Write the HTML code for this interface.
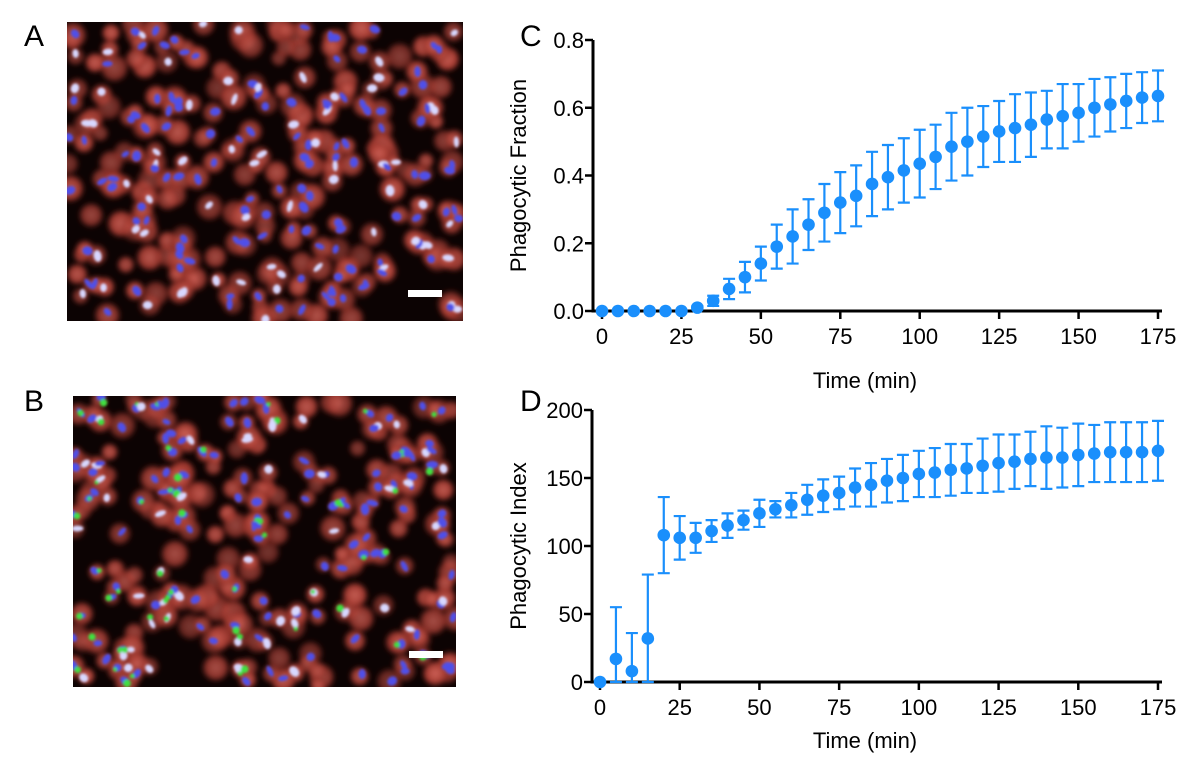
<!DOCTYPE html>
<html><head><meta charset="utf-8">
<style>
html,body{margin:0;padding:0;background:#fff;}
body{width:1200px;height:770px;position:relative;overflow:hidden;font-family:"Liberation Sans",sans-serif;}
.lbl{position:absolute;font-size:30px;color:#000;}
svg{position:absolute;left:0;top:0;}
</style></head>
<body>
<div class="lbl" style="left:24px;top:20px;">A</div>
<div class="lbl" style="left:24px;top:385px;">B</div>
<div class="lbl" style="left:520px;top:20px;">C</div>
<div class="lbl" style="left:520px;top:385px;">D</div>
<svg id="imgs" width="1200" height="770">
<defs>
<filter id="bl" x="-50%" y="-50%" width="200%" height="200%"><feGaussianBlur stdDeviation="2.5"/></filter>
<filter id="bl2" x="-50%" y="-50%" width="200%" height="200%"><feGaussianBlur stdDeviation="1.3"/></filter>
<radialGradient id="cell"><stop offset="0" stop-color="#d0645a"/><stop offset="0.65" stop-color="#a83c32"/><stop offset="1" stop-color="#5a1510" stop-opacity="0"/></radialGradient>
<clipPath id="ca"><rect x="67" y="22" width="396" height="299"/></clipPath>
<clipPath id="cb"><rect x="73" y="396" width="383" height="291"/></clipPath>
</defs>
<rect x="67" y="22" width="396" height="299" fill="#0c0303"/>
<rect x="73" y="396" width="383" height="291" fill="#0c0303"/>
<g id="ga" clip-path="url(#ca)"></g>
<g id="gb" clip-path="url(#cb)"></g>
<rect x="408" y="290" width="34" height="7" fill="#fff"/>
<rect x="409" y="651" width="34" height="7" fill="#fff"/>
</svg>
<svg id="chart" width="1200" height="770"></svg>
<script>
// ---- chart data ----
const times = [0,5,10,15,20,25,30,35,40,45,50,55,60,65,70,75,80,85,90,95,100,105,110,115,120,125,130,135,140,145,150,155,160,165,170,175];
const fractionMean = [0,0,0,0,0,0,0.01,0.03,0.065,0.10,0.14,0.19,0.22,0.255,0.29,0.32,0.34,0.375,0.395,0.415,0.435,0.455,0.485,0.50,0.515,0.53,0.54,0.55,0.565,0.575,0.585,0.6,0.61,0.62,0.63,0.635];
const fractionErr = [0,0,0,0,0,0,0.005,0.015,0.03,0.045,0.05,0.065,0.08,0.075,0.085,0.09,0.09,0.095,0.095,0.095,0.10,0.095,0.10,0.10,0.09,0.09,0.10,0.095,0.085,0.095,0.085,0.085,0.08,0.08,0.075,0.075];
const indexMean = [0,17,8,32,108,106,106,111,115,119,124,127,130,134,137,139,143,145,148,150,153,154,156,157,159,161,162,164,165,165,167,168,169,169,169,170];
const indexErr = [0,38,28,47,28,16,11,8,9,7,10,6,9,11,12,12,14,16,16,17,17,18,19,18,20,21,20,20,23,22,23,21,22,22,22,22];
const xTicks = [0,25,50,75,100,125,150,175];
const fractionTicks = [0,0.2,0.4,0.6,0.8];
const fractionTickLabels = ["0.0","0.2","0.4","0.6","0.8"];
const indexTicks = [0,50,100,150,200];
const indexTickLabels = ["0","50","100","150","200"];

const NS="http://www.w3.org/2000/svg";
const svg=document.getElementById('chart');
function mk(tag,attrs,parent){const e=document.createElementNS(NS,tag);for(const k in attrs)e.setAttribute(k,attrs[k]);(parent||svg).appendChild(e);return e;}
const BLUE="#1a8ffc";

function panel(o){
  const g=mk('g',{});
  
  
  const xs=v=>o.x0+(v-0)/175*(o.x1-o.x0);
  const ys=v=>o.yb+(v-o.ymin)/(o.ymax-o.ymin)*(o.yt-o.yb);
  const ya=mk('line',{x1:o.ax,y1:o.yt,x2:o.ax,y2:o.yb+1.5,stroke:'#000','stroke-width':3},g);
  
  
  const xa=mk('line',{x1:o.ax-1.5,y1:o.yb,x2:o.x1+4,y2:o.yb,stroke:'#000','stroke-width':3},g);
  
  
  o.yTicks.forEach((v,i)=>{
    const y=ys(v);
    const t=mk('line',{x1:o.ax-8,y1:y,x2:o.ax,y2:y,stroke:'#000','stroke-width':2.5},g);
    
    
    const tx=mk('text',{x:o.ax-9,y:y+8,'text-anchor':'end','font-size':22,'font-family':'Liberation Sans, sans-serif'},g);
    tx.textContent=o.yLabels[i];
    
    
  });
  xTicks.forEach(v=>{
    const x=xs(v);
    const t=mk('line',{x1:x,y1:o.yb,x2:x,y2:o.yb+8,stroke:'#000','stroke-width':2.5},g);
    
    
    const tx=mk('text',{x:x,y:o.yb+33,'text-anchor':'middle','font-size':22,'font-family':'Liberation Sans, sans-serif'},g);
    tx.textContent=String(v);
    
    
  });
  const xt=mk('text',{x:865,y:o.xTitleY,'text-anchor':'middle','font-size':22,'font-family':'Liberation Sans, sans-serif'},g);
  xt.textContent='Time (min)';
  
  
  const yc=(o.yt+o.yb)/2;
  const yt=mk('text',{x:0,y:0,'text-anchor':'middle','font-size':22,'font-family':'Liberation Sans, sans-serif',transform:`translate(${o.yTitleX},${yc}) rotate(-90)`},g);
  yt.textContent=o.yTitle;
  
  
  times.forEach((t,i)=>{
    const x=xs(t), m=o.mean[i], e=o.err[i];
    if(e>0){
      const lo=Math.max(o.ymin,m-e), hi=m+e;
      const eb=mk('path',{d:`M${x},${ys(lo)}V${ys(hi)}M${x-6},${ys(hi)}H${x+6}M${x-6},${ys(lo)}H${x+6}`,stroke:BLUE,'stroke-width':2.2,fill:'none'},g);
      
      
    }
    const c=mk('circle',{cx:x,cy:ys(m),r:6.3,fill:BLUE},g);
    
    
  });
}
panel({name:'chart-c-phagocytic-fraction',x0:602,x1:1158,ax:593,yt:40,yb:311,ymin:0,ymax:0.8,yTicks:fractionTicks,yLabels:fractionTickLabels,mean:fractionMean,err:fractionErr,xTitleY:388,yTitleX:526,yTitle:'Phagocytic Fraction'});
panel({name:'chart-d-phagocytic-index',x0:600,x1:1158,ax:592,yt:410,yb:682,ymin:0,ymax:200,yTicks:indexTicks,yLabels:indexTickLabels,mean:indexMean,err:indexErr,xTitleY:748,yTitleX:526,yTitle:'Phagocytic Index'});

// ---- micrograph textures (deterministic) ----
function drawCells(gid,x0,y0,w,h,seed,green){
  const g=document.getElementById(gid);
  let s=seed;
  const r=()=>{s=(s*1103515245+12345)%2147483648;return s/2147483648;};
  const n=Math.round(w*h/420);
  const pts=[];
  const cg=document.createElementNS(NS,'g');
  cg.setAttribute('filter','url(#bl)');
  g.appendChild(cg);
  for(let i=0;i<n;i++){
    const cx=x0+r()*w, cy=y0+r()*h, rr=9+r()*7;
    pts.push([cx,cy]);
    const c=document.createElementNS(NS,'circle');
    c.setAttribute('cx',cx.toFixed(1));c.setAttribute('cy',cy.toFixed(1));c.setAttribute('r',rr.toFixed(1));
    c.setAttribute('fill','url(#cell)');c.setAttribute('opacity',(0.55+r()*0.4).toFixed(2));
    cg.appendChild(c);
  }
  const ng=document.createElementNS(NS,'g');
  ng.setAttribute('filter','url(#bl2)');
  g.appendChild(ng);
  pts.forEach(p=>{
    if(r()<0.3)return;
    const e=document.createElementNS(NS,'ellipse');
    e.setAttribute('cx',(p[0]+(r()-0.5)*6).toFixed(1));e.setAttribute('cy',(p[1]+(r()-0.5)*6).toFixed(1));
    e.setAttribute('rx',(2.5+r()*2).toFixed(1));e.setAttribute('ry',(4+r()*2).toFixed(1));
    e.setAttribute('transform',`rotate(${(r()*180).toFixed(0)} ${p[0].toFixed(1)} ${p[1].toFixed(1)})`);
    e.setAttribute('fill',r()<0.3?'#d8d8ff':'#5050e8');
    ng.appendChild(e);
    if(green&&r()<0.3){
      const q=document.createElementNS(NS,'circle');
      q.setAttribute('cx',(p[0]+(r()-0.5)*10).toFixed(1));q.setAttribute('cy',(p[1]+(r()-0.5)*10).toFixed(1));
      q.setAttribute('r',(2+r()*2).toFixed(1));q.setAttribute('fill','#40e040');
      ng.appendChild(q);
    }
  });
}
drawCells('ga',67,22,396,299,12345,false);
drawCells('gb',73,396,383,291,67890,true);
</script>
</body></html>
